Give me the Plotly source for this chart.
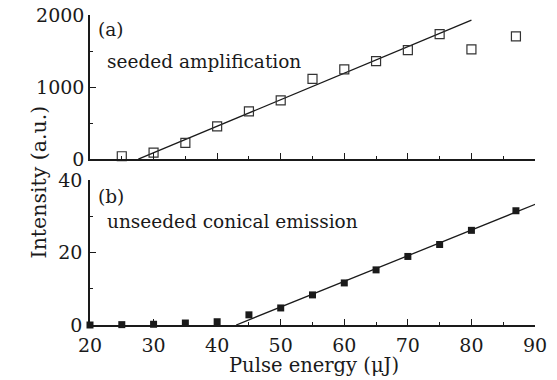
import plotly.graph_objects as go
from plotly.subplots import make_subplots

# Data
energy_a = [25, 30, 35, 40, 45, 50, 55, 60, 65, 70, 75, 80, 87]
intensity_a = [40, 90, 226, 454, 662, 815, 1115, 1245, 1361, 1514, 1736, 1523, 1704]
fit_a_x = [27.6, 80]
fit_a_y = [0, 1930]

energy_b = [20, 25, 30, 35, 40, 45, 50, 55, 60, 65, 70, 75, 80, 87]
intensity_b = [0, 0.1, 0.2, 0.55, 0.9, 2.8, 4.7, 8.3, 11.6, 15.2, 18.9, 22.2, 26.1, 31.5]
fit_b_x = [43, 90.5]
fit_b_y = [0, 33.6]

FONT = "DejaVu Serif"
INK = "#1a1a1a"

fig = make_subplots(rows=2, cols=1, shared_xaxes=False, vertical_spacing=0.0)

fig.add_trace(go.Scatter(x=fit_a_x, y=fit_a_y, mode="lines",
                         line=dict(color=INK, width=1.3), cliponaxis=False), row=1, col=1)
fig.add_trace(go.Scatter(x=energy_a, y=intensity_a, mode="markers",
                         marker=dict(symbol="square-open", size=9, color="#333",
                                     line=dict(width=1.2)), cliponaxis=False), row=1, col=1)
fig.add_trace(go.Scatter(x=fit_b_x, y=fit_b_y, mode="lines",
                         line=dict(color=INK, width=1.3), cliponaxis=False), row=2, col=1)
fig.add_trace(go.Scatter(x=energy_b, y=intensity_b, mode="markers",
                         marker=dict(symbol="square", size=7, color=INK), cliponaxis=False), row=2, col=1)

axis_common = dict(showline=True, linecolor=INK, linewidth=1.5, ticks="inside",
                   ticklen=6, tickwidth=1.3, tickcolor=INK, showgrid=False, zeroline=False,
                   automargin=False,
                   tickfont=dict(family=FONT, size=19, color=INK))

fig.update_xaxes(range=[20, 90], dtick=10, tick0=20,
                 minor=dict(ticks="inside", ticklen=3, tickwidth=1.2, tickcolor=INK, dtick=5, tick0=20),
                 **axis_common)
fig.update_xaxes(showticklabels=False, row=1, col=1)
fig.update_xaxes(ticklabelstandoff=2, row=2, col=1)
fig.update_yaxes(**axis_common)
fig.update_yaxes(range=[0, 2000], dtick=1000,
                 minor=dict(ticks="inside", ticklen=3, tickwidth=1.2, tickcolor=INK, dtick=500),
                 row=1, col=1)
fig.update_yaxes(range=[0, 40], dtick=20, ticklabelstandoff=2,
                 minor=dict(ticks="inside", ticklen=3, tickwidth=1.2, tickcolor=INK, dtick=10),
                 row=2, col=1)

fig.update_layout(
    width=557, height=380,
    margin=dict(l=90, r=22, t=15, b=55),
    showlegend=False,
    plot_bgcolor="white", paper_bgcolor="white",
    yaxis=dict(domain=[0.535, 1.0]),
    yaxis2=dict(domain=[0.0, 0.468]),
    xaxis=dict(anchor="y"), xaxis2=dict(anchor="y2"),
    font=dict(family=FONT, size=18, color=INK),
)

ann_font = dict(family=FONT, size=18.5, color=INK)
fig.add_annotation(text="(a)", xref="x", yref="y", x=21.0, y=1800, xanchor="left",
                   yanchor="middle", showarrow=False, font=ann_font)
fig.add_annotation(text="seeded amplification", xref="x", yref="y", x=22.4, y=1350,
                   xanchor="left", yanchor="middle", showarrow=False, font=ann_font)
fig.add_annotation(text="(b)", xref="x2", yref="y2", x=21.0, y=35.5, xanchor="left",
                   yanchor="middle", showarrow=False, font=ann_font)
fig.add_annotation(text="unseeded conical emission", xref="x2", yref="y2", x=22.4, y=28.5,
                   xanchor="left", yanchor="middle", showarrow=False, font=ann_font)
fig.add_annotation(text="Intensity (a.u.)", xref="paper", yref="paper", x=-0.146, y=0.46,
                   textangle=-90, showarrow=False, font=dict(family=FONT, size=20.5, color=INK))
fig.add_annotation(text="Pulse energy (μJ)", xref="paper", yref="paper", x=0.503, y=-0.132,
                   yanchor="middle", showarrow=False, font=dict(family=FONT, size=19.5, color=INK))

fig.write_html("out.html")
